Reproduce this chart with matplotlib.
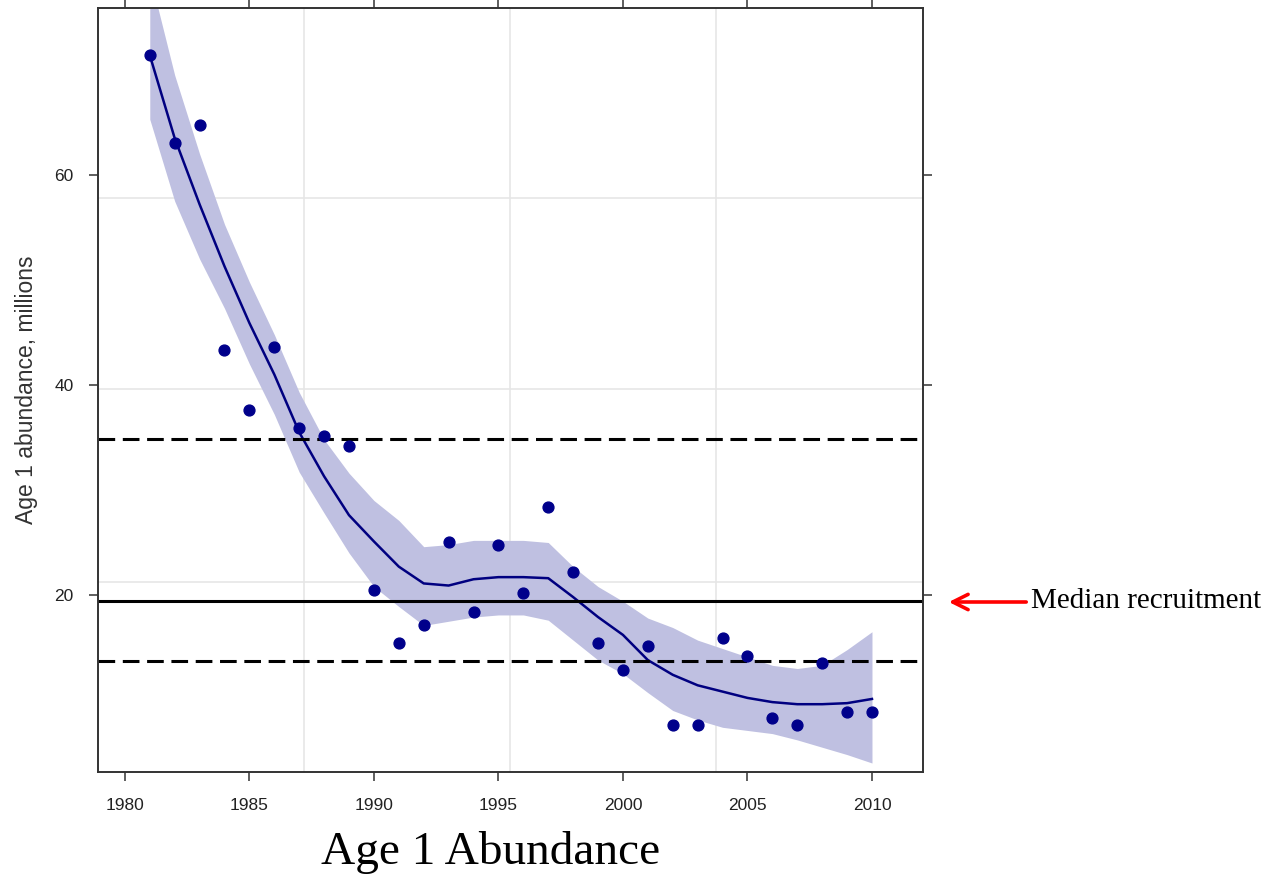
import numpy as np
import matplotlib
matplotlib.use("Agg")
import matplotlib.pyplot as plt

years = np.arange(1981, 2011)
abundance = [71.4, 63.0, 64.8, 43.3, 37.6, 43.6, 35.9, 35.1, 34.2, 20.5,
             15.4, 17.1, 25.0, 18.4, 24.8, 20.2, 28.4, 22.2, 15.4, 12.9,
             15.1, 7.6, 7.6, 15.9, 14.2, 8.3, 7.6, 13.5, 8.9, 8.9]

# loess fit and its confidence band
smooth = [71.4, 63.5, 57.2, 51.3, 45.9, 41.0, 35.5, 31.3, 27.6, 25.1,
          22.7, 21.1, 20.9, 21.5, 21.7, 21.7, 21.6, 19.8, 17.9, 16.2,
          13.8, 12.4, 11.4, 10.8, 10.2, 9.8, 9.6, 9.6, 9.7, 10.1]
band_hi = [79.0, 69.5, 62.0, 55.3, 49.8, 44.8, 39.3, 34.8, 31.6, 29.0,
           27.1, 24.6, 24.8, 25.2, 25.2, 25.2, 25.0, 22.7, 20.8, 19.4,
           17.8, 16.9, 15.7, 14.9, 14.1, 13.3, 13.0, 13.3, 14.8, 16.5]
band_lo = [65.3, 57.5, 52.0, 47.3, 42.0, 37.2, 31.7, 27.8, 24.0, 20.8,
           18.9, 17.1, 17.5, 17.9, 18.1, 18.1, 17.6, 15.7, 13.8, 12.5,
           10.7, 9.0, 8.1, 7.4, 7.1, 6.8, 6.2, 5.5, 4.8, 4.0]

median_rec = 19.4
quartiles = [13.7, 34.85]

grid_x = [1987.2, 1995.48, 2003.75]
grid_y = [21.2, 39.6, 57.8]

plt.rcParams['lines.scale_dashes'] = False
fig = plt.figure(figsize=(12.66, 8.77), dpi=100)
ax = fig.add_axes([0.0774, 0.1192, 0.6513, 0.8717])

for gx in grid_x:
    ax.axvline(gx, color='#e6e6e6', lw=1.2, zorder=0)
for gy in grid_y:
    ax.axhline(gy, color='#e6e6e6', lw=1.2, zorder=0)

ax.fill_between(years, band_lo, band_hi, color='#bfc0e1', lw=0, zorder=1)
ax.plot(years, smooth, color='#000080', lw=1.8, zorder=2)
ax.plot(years, abundance, 'o', color='#00008b', ms=7.8, zorder=3)

ax.axhline(median_rec, color='black', lw=2.2, zorder=2)
for q in quartiles:
    ax.axhline(q, color='black', lw=2.2, dashes=(12, 5.5), zorder=2)

ax.set_xlim(1978.92, 2012.03)
ax.set_ylim(3.1, 75.9)
ax.set_xticks(range(1980, 2011, 5))
ax.set_yticks([20, 40, 60])
ax.tick_params(direction='out', length=6.5, width=1.1, color='#333333',
               labelsize=12.5, labelcolor='#222222', pad=12,
               top=True, right=True, labeltop=False, labelright=False)
ax.tick_params(axis='y', pad=11)
for s in ax.spines.values():
    s.set_color('#333333')
    s.set_linewidth(1.4)
ax.set_ylabel('Age 1 abundance, millions', fontsize=16.5, color='#333333',
              family='Liberation Sans', labelpad=12)
for lab in ax.get_xticklabels() + ax.get_yticklabels():
    lab.set_family('Liberation Sans')

fig.text(491 / 1266, 1 - 852 / 877, 'Age 1 Abundance', family='Liberation Serif',
         fontsize=34, ha='center', va='center')
fig.text(1031 / 1266, 1 - 601 / 877, 'Median recruitment', family='Liberation Serif',
         fontsize=21, ha='left', va='center')
ax.annotate('', xy=(946 / 1266, 1 - 602 / 877), xycoords='figure fraction',
            xytext=(1029 / 1266, 1 - 602 / 877), textcoords='figure fraction',
            arrowprops=dict(arrowstyle='->, head_length=1.1, head_width=0.55',
                            color='red', lw=2.6), annotation_clip=False)

fig.savefig('out.png', dpi=100)
